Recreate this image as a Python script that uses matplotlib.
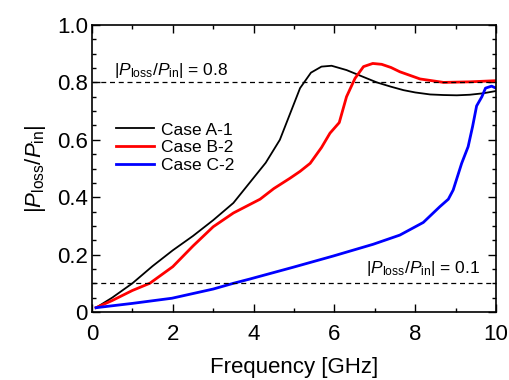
import matplotlib
matplotlib.use('Agg')
import matplotlib.pyplot as plt
from matplotlib.ticker import MultipleLocator

plt.rcParams['font.family'] = 'Liberation Sans'
plt.rcParams['mathtext.fontset'] = 'custom'
plt.rcParams['mathtext.rm'] = 'Liberation Sans'
plt.rcParams['mathtext.it'] = 'Liberation Sans:italic'

# Case A-1
freq_a = [0.1, 0.5, 1.0, 1.5, 2.0, 2.5, 3.0, 3.5, 3.9, 4.3, 4.65, 4.9, 5.15, 5.42, 5.68, 5.93,
          6.3, 6.7, 7.05, 7.4, 7.71, 8.0, 8.37, 8.7, 9.03, 9.35, 9.68, 10.0]
loss_a = [0.015, 0.05, 0.1, 0.16, 0.215, 0.265, 0.32, 0.38, 0.45, 0.52, 0.6, 0.69, 0.78, 0.834, 0.855, 0.858,
          0.843, 0.82, 0.8, 0.785, 0.773, 0.765, 0.758, 0.756, 0.755, 0.757, 0.762, 0.77]

# Case B-2
freq_b = [0.1, 0.5, 1.0, 1.43, 2.0, 2.5, 3.0, 3.5, 4.16, 4.5, 4.9, 5.15, 5.4, 5.68, 5.89, 6.12,
          6.3, 6.51, 6.72, 6.95, 7.17, 7.4, 7.62, 8.12, 8.7, 9.36, 10.0]
loss_b = [0.015, 0.04, 0.075, 0.1, 0.158, 0.23, 0.297, 0.345, 0.393, 0.43, 0.466, 0.49, 0.518, 0.573, 0.623, 0.66,
          0.75, 0.814, 0.855, 0.866, 0.863, 0.852, 0.837, 0.812, 0.8, 0.802, 0.806]

# Case C-2
freq_c = [0.1, 1.0, 1.98, 3.0, 3.5, 3.91, 4.98, 5.97, 6.96, 7.62, 8.2, 8.61, 8.82, 8.94, 9.15, 9.31,
          9.42, 9.52, 9.65, 9.74, 9.89, 10.0]
loss_c = [0.015, 0.03, 0.048, 0.08, 0.1, 0.115, 0.156, 0.195, 0.236, 0.268, 0.312, 0.367, 0.393, 0.425, 0.518, 0.576,
          0.646, 0.718, 0.75, 0.78, 0.787, 0.78]

levels = [0.8, 0.1]
ratio = r'$|P_{\rm loss}/P_{\rm in}|$'

fig = plt.figure(figsize=(5.09, 3.80), dpi=100)
ax = fig.add_axes([92 / 509, 1 - 312 / 380, (496 - 92) / 509, (312 - 25) / 380])

ax.plot(freq_a, loss_a, color='black', lw=1.3, label='Case A-1')
ax.plot(freq_b, loss_b, color='#ff0000', lw=2.0, label='Case B-2')
ax.plot(freq_c, loss_c, color='#0000ff', lw=2.0, label='Case C-2')

for lv in levels:
    ax.axhline(lv, color='black', lw=0.9, ls=(0, (4, 3)))

ax.text(0.55, 0.81, ratio + ' = 0.8', fontsize=12.5, va='bottom', ha='left')
ax.text(9.62, 0.12, ratio + ' = 0.1', fontsize=12.5, va='bottom', ha='right')

ax.set_xlim(0, 10)
ax.set_ylim(0, 1.0)
ax.xaxis.set_major_locator(MultipleLocator(2))
ax.xaxis.set_minor_locator(MultipleLocator(1))
ax.yaxis.set_minor_locator(MultipleLocator(0.05))
ax.set_yticks([0, 0.2, 0.4, 0.6, 0.8, 1.0])
ax.set_yticklabels(['0', '0.2', '0.4', '0.6', '0.8', '1.0'])
ax.tick_params(which='both', direction='in', top=True, right=True, labelsize=16)
ax.tick_params(which='major', length=6, width=1)
ax.tick_params(which='minor', length=3, width=1)
ax.tick_params(axis='x', pad=9)
ax.tick_params(axis='y', pad=3)
for s in ax.spines.values():
    s.set_linewidth(1.2)

ax.set_xlabel('Frequency [GHz]', fontsize=16, labelpad=8)
ax.set_ylabel(ratio, fontsize=16, labelpad=6)

ax.legend(loc='upper left', bbox_to_anchor=(0.02, 0.715), frameon=False, fontsize=12.5,
          handlelength=2.2, handletextpad=0.4, labelspacing=0.15)

fig.savefig('out.png', dpi=100)
